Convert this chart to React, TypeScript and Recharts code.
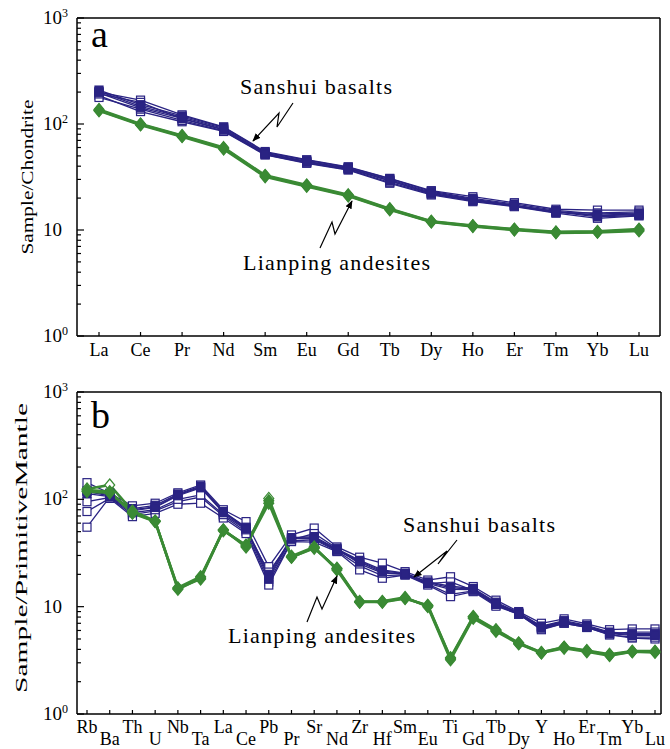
import React from 'react';
import { LineChart, Line, XAxis, YAxis } from 'recharts';

const SERIF = 'Liberation Serif';
const BLUE = '#2a2383';
const GREEN = '#3a8a34';

// Chondrite-normalised REE (panel a)
const reeElements = ['La', 'Ce', 'Pr', 'Nd', 'Sm', 'Eu', 'Gd', 'Tb', 'Dy', 'Ho', 'Er', 'Tm', 'Yb', 'Lu'];
const reeBasaltF1 = [209, 152, 119, 93, 54, 45.5, 39, 30.5, 23.2, 19.9, 17.6, 15.3, 14.2, 14.4];
const reeBasaltF2 = [203, 147, 116, 91, 53, 44.5, 38.3, 29.8, 22.7, 19.5, 17.2, 15.0, 13.6, 14.0];
const reeBasaltF3 = [197, 142, 113, 89, 52, 43.8, 37.8, 29.2, 22.3, 19.2, 17.0, 14.8, 13.3, 13.7];
const reeBasaltO1 = [200, 168, 122, 94, 55, 46, 39.5, 30.7, 23.5, 20.6, 18.1, 15.7, 15.4, 15.4];
const reeBasaltO2 = [185, 131, 105, 85, 51, 42.6, 36.8, 27.6, 21.4, 18.5, 16.6, 14.4, 12.9, 13.6];
const reeBasaltO3 = [178, 138, 108, 86, 51.5, 43, 37.2, 28.2, 21.8, 18.8, 16.8, 14.6, 14.5, 14.8];
const reeBasaltO4 = [192, 160, 112, 88, 52.5, 44, 38, 29, 22, 19, 17, 14.9, 13.8, 14.2];
const reeAndesiteG1 = [135, 99, 77, 59, 32.3, 26.2, 21.2, 15.7, 12.0, 10.9, 10.1, 9.5, 9.6, 10.0];
const reeAndesiteG2 = [137, 100, 78, 60, 32.8, 26.6, 21.5, 15.9, 12.1, 11.0, 10.2, 9.6, 9.7, 10.2];
const reeAndesiteG3 = [133, 98, 76, 58, 31.8, 25.8, 20.9, 15.5, 11.9, 10.8, 10.0, 9.4, 9.5, 9.8];

// Primitive-mantle-normalised trace elements (panel b)
const pmElements = ['Rb', 'Ba', 'Th', 'U', 'Nb', 'Ta', 'La', 'Ce', 'Pb', 'Pr', 'Sr', 'Nd', 'Zr', 'Hf', 'Sm', 'Eu', 'Ti', 'Gd', 'Tb', 'Dy', 'Y', 'Ho', 'Er', 'Tm', 'Yb', 'Lu'];
const pmBasaltF1 = [120, 110, 82, 88, 112, 133, 77, 55, 20, 44, 45, 34.5, 27, 22, 20.5, 17, 15.5, 14.8, 11, 8.8, 6.6, 7.4, 6.7, 5.8, 5.6, 5.6];
const pmBasaltF2 = [118, 108, 80, 85, 110, 130, 76, 54, 19, 43.5, 44, 34, 26.5, 21.5, 20.3, 16.8, 15, 14.6, 10.8, 8.7, 6.5, 7.3, 6.6, 5.7, 5.5, 5.5];
const pmBasaltF3 = [113, 106, 78, 84, 108, 128, 75, 53, 18, 43, 43, 33.5, 26, 21, 20, 16.5, 14.5, 14.4, 10.6, 8.6, 6.4, 7.2, 6.5, 5.6, 5.4, 5.4];
const pmBasaltO1 = [143, 114, 87, 92, 115, 136, 80, 62, 23.6, 46.6, 54, 36, 28.9, 25.4, 21.2, 17.7, 19, 15.4, 11.5, 9.0, 7.0, 7.7, 6.9, 6.1, 6.2, 6.2];
const pmBasaltO2 = [95, 104, 72, 78, 95, 105, 70, 50, 17, 41, 42, 33, 24, 19.5, 19.8, 16.2, 13, 14, 10.3, 8.5, 6.2, 7.0, 6.4, 5.5, 5.1, 5.0];
const pmBasaltO3 = [77, 102, 69, 74, 90, 92, 67, 48, 15.9, 40.4, 40, 32.6, 22, 18.4, 19.7, 15.9, 12.4, 13.8, 10.1, 8.5, 6.1, 7.0, 6.4, 5.45, 5.2, 5.2];
const pmBasaltO4 = [55, 105, 75, 80, 100, 110, 72, 52, 21, 42, 48, 35, 25, 20.5, 20.2, 16.4, 17, 14.2, 10.5, 8.6, 6.3, 7.1, 6.5, 5.6, 5.8, 5.8];
const pmAndesiteG1 = [118, 115, 76, 62, 14.8, 18.1, 51.9, 36.8, 92, 28.9, 35.5, 22.5, 11.1, 11.1, 12.0, 10.2, 3.3, 8.0, 6.0, 4.56, 3.73, 4.18, 3.87, 3.55, 3.81, 3.81];
const pmAndesiteG2 = [122, 118, 74, 62, 15, 19, 51, 37.5, 97, 29.5, 36, 22, 11.0, 11.2, 12.2, 10.0, 3.2, 7.8, 5.9, 4.5, 3.7, 4.1, 3.8, 3.5, 3.8, 3.75];
const pmAndesiteG3 = [125, 136, 78, 63, 14.5, 18.5, 52, 36, 102, 29, 35, 22.8, 11.2, 11, 11.9, 10.3, 3.35, 8.1, 6.1, 4.6, 3.75, 4.2, 3.9, 3.6, 3.85, 3.85];

const LOG_TICKS = [
  1, 2, 3, 4, 5, 6, 7, 8, 9,
  10, 20, 30, 40, 50, 60, 70, 80, 90,
  100, 200, 300, 400, 500, 600, 700, 800, 900, 1000,
];

type Sample = { key: string; values: number[]; kind: 'filled' | 'open'; rock: 'basalt' | 'andesite' };

const reeSamples: Sample[] = [
  { key: 'b1', values: reeBasaltO1, kind: 'open', rock: 'basalt' },
  { key: 'b2', values: reeBasaltO2, kind: 'open', rock: 'basalt' },
  { key: 'b3', values: reeBasaltO3, kind: 'open', rock: 'basalt' },
  { key: 'b4', values: reeBasaltO4, kind: 'open', rock: 'basalt' },
  { key: 'b5', values: reeBasaltF1, kind: 'filled', rock: 'basalt' },
  { key: 'b6', values: reeBasaltF2, kind: 'filled', rock: 'basalt' },
  { key: 'b7', values: reeBasaltF3, kind: 'filled', rock: 'basalt' },
  { key: 'g3', values: reeAndesiteG3, kind: 'open', rock: 'andesite' },
  { key: 'g1', values: reeAndesiteG1, kind: 'filled', rock: 'andesite' },
  { key: 'g2', values: reeAndesiteG2, kind: 'filled', rock: 'andesite' },
];

const pmSamples: Sample[] = [
  { key: 'b1', values: pmBasaltO1, kind: 'open', rock: 'basalt' },
  { key: 'b2', values: pmBasaltO2, kind: 'open', rock: 'basalt' },
  { key: 'b3', values: pmBasaltO3, kind: 'open', rock: 'basalt' },
  { key: 'b4', values: pmBasaltO4, kind: 'open', rock: 'basalt' },
  { key: 'b5', values: pmBasaltF1, kind: 'filled', rock: 'basalt' },
  { key: 'b6', values: pmBasaltF2, kind: 'filled', rock: 'basalt' },
  { key: 'b7', values: pmBasaltF3, kind: 'filled', rock: 'basalt' },
  { key: 'g3', values: pmAndesiteG3, kind: 'open', rock: 'andesite' },
  { key: 'g1', values: pmAndesiteG1, kind: 'filled', rock: 'andesite' },
  { key: 'g2', values: pmAndesiteG2, kind: 'filled', rock: 'andesite' },
];

const buildRows = (elements: string[], samples: Sample[]) =>
  elements.map((el, i) => {
    const row: Record<string, any> = { el };
    samples.forEach((s) => {
      row[s.key] = s.values[i];
    });
    return row;
  });

const reeRows = buildRows(reeElements, reeSamples);
const pmRows = buildRows(pmElements, pmSamples);

const makeDot = (s: Sample) => (props: any) => {
  const { cx, cy, index } = props;
  if (cx == null || cy == null) return <g key={`${s.key}-${index}`} />;
  const color = s.rock === 'basalt' ? BLUE : GREEN;
  const fill = s.kind === 'filled' ? color : '#ffffff';
  if (s.rock === 'basalt') {
    return (
      <rect
        key={`${s.key}-${index}`}
        x={cx - 4}
        y={cy - 4}
        width={8}
        height={8}
        fill={fill}
        stroke={color}
        strokeWidth={1.2}
      />
    );
  }
  return (
    <polygon
      key={`${s.key}-${index}`}
      points={`${cx},${cy - 6} ${cx + 5},${cy} ${cx},${cy + 6} ${cx - 5},${cy}`}
      fill={fill}
      stroke={color}
      strokeWidth={1.2}
    />
  );
};

const LogTick = (props: any) => {
  const { x, y, payload } = props;
  const v = Number(payload.value);
  const lg = Math.log10(v);
  const exp = Math.round(lg);
  const major = Math.abs(lg - exp) < 1e-6;
  return (
    <g>
      <line x1={x} y1={y} x2={x + (major ? 7 : 4)} y2={y} stroke="#000" strokeWidth={1.2} />
      {major && (
        <text x={x - 15} y={y + 6} textAnchor="end" fontSize={19} fontFamily={SERIF} fill="#000">
          10
        </text>
      )}
      {major && exp !== 1 && (
        <text x={x - 15} y={y - 1} textAnchor="start" fontSize={12} fontFamily={SERIF} fill="#000">
          {exp}
        </text>
      )}
    </g>
  );
};

const ReeTick = (props: any) => {
  const { x, y, payload } = props;
  return (
    <g>
      <line x1={x} y1={y} x2={x} y2={y - 4} stroke="#000" strokeWidth={1.2} />
      <text x={x} y={y + 20} textAnchor="middle" fontSize={18} fontFamily={SERIF} fill="#000">
        {payload.value}
      </text>
    </g>
  );
};

const PmTick = (props: any) => {
  const { x, y, payload, index } = props;
  const low = index % 2 === 1;
  return (
    <g>
      <line x1={x} y1={y} x2={x} y2={y - 4} stroke="#000" strokeWidth={1.2} />
      <text x={x} y={y + (low ? 31 : 19)} textAnchor="middle" fontSize={18} fontFamily={SERIF} fill="#000">
        {payload.value}
      </text>
    </g>
  );
};

const renderLines = (samples: Sample[]) =>
  samples.map((s) => (
    <Line
      key={s.key}
      dataKey={s.key}
      type="linear"
      stroke={s.rock === 'basalt' ? BLUE : GREEN}
      strokeWidth={s.rock === 'basalt' ? 1.3 : 2.6}
      dot={makeDot(s)}
      activeDot={false}
      isAnimationActive={false}
    />
  ));

const axisLine = { stroke: '#000', strokeWidth: 1.5 };

const Panel = ({
  rows,
  samples,
  width,
  height,
  margin,
  tick,
  padding,
}: {
  rows: any[];
  samples: Sample[];
  width: number;
  height: number;
  margin: { top: number; right: number; bottom: number; left: number };
  tick: any;
  padding: { left: number; right: number };
}) => (
  <LineChart width={width} height={height} data={rows} margin={margin}>
    <XAxis
      dataKey="el"
      type="category"
      interval={0}
      tickSize={0}
      tickMargin={0}
      tick={tick}
      tickLine={false}
      axisLine={axisLine}
      padding={padding}
      height={30}
    />
    <XAxis
      xAxisId="top"
      dataKey="el"
      orientation="top"
      tick={false}
      tickLine={false}
      axisLine={axisLine}
      height={1}
    />
    <YAxis
      type="number"
      scale="log"
      domain={[1, 1000]}
      allowDataOverflow
      ticks={LOG_TICKS}
      interval={0}
      tickSize={0}
      tickMargin={0}
      tick={LogTick}
      tickLine={false}
      axisLine={axisLine}
      width={60}
    />
    <YAxis
      yAxisId="right"
      orientation="right"
      type="number"
      scale="log"
      domain={[1, 1000]}
      allowDataOverflow
      tick={false}
      tickLine={false}
      axisLine={axisLine}
      width={1}
    />
    {renderLines(samples)}
  </LineChart>
);

const textStyle = { fontFamily: SERIF, fill: '#000' };

export default function App() {
  return (
    <div style={{ position: 'absolute', left: 0, top: 0, width: 670, height: 749, background: '#fff' }}>
      <div style={{ position: 'absolute', left: 0, top: 0 }}>
        <Panel
          rows={reeRows}
          samples={reeSamples}
          width={670}
          height={370}
          margin={{ top: 17, right: 9, bottom: 4, left: 17 }}
          tick={ReeTick}
          padding={{ left: 22, right: 21 }}
        />
      </div>
      <div style={{ position: 'absolute', left: 0, top: 370 }}>
        <Panel
          rows={pmRows}
          samples={pmSamples}
          width={670}
          height={379}
          margin={{ top: 21, right: 8, bottom: 5, left: 17 }}
          tick={PmTick}
          padding={{ left: 10, right: 6 }}
        />
      </div>
      <svg
        width={670}
        height={749}
        style={{ position: 'absolute', left: 0, top: 0, pointerEvents: 'none', overflow: 'visible' }}
      >
        <defs>
          <marker id="arrowHead" viewBox="0 0 10 10" refX="9" refY="5" markerWidth="7" markerHeight="7" orient="auto">
            <path d="M0,1 L10,5 L0,9 Z" fill="#000" />
          </marker>
        </defs>

        {/* panel a */}
        <text x={91} y={47} fontSize={38} style={textStyle}>a</text>
        <text
          x={0}
          y={0}
          fontSize={17}
          textAnchor="middle"
          textLength={155}
          lengthAdjust="spacingAndGlyphs"
          transform="translate(33,177) rotate(-90)"
          style={textStyle}
        >
          Sample/Chondrite
        </text>
        <text x={240} y={94} fontSize={22} textLength={152} lengthAdjust="spacing" style={textStyle}>
          Sanshui basalts
        </text>
        <polyline
          points="293,103 277,127 279,113 253,141"
          fill="none"
          stroke="#000"
          strokeWidth={1.2}
          markerEnd="url(#arrowHead)"
        />
        <text x={243} y={270} fontSize={22} textLength={187} lengthAdjust="spacing" style={textStyle}>
          Lianping andesites
        </text>
        <polyline
          points="320,248 332,222 335,234 352,201"
          fill="none"
          stroke="#000"
          strokeWidth={1.2}
          markerEnd="url(#arrowHead)"
        />

        {/* panel b */}
        <text x={91} y={428} fontSize={38} style={textStyle}>b</text>
        <text
          x={0}
          y={0}
          fontSize={17}
          textAnchor="middle"
          textLength={290}
          lengthAdjust="spacingAndGlyphs"
          transform="translate(27,548) rotate(-90)"
          style={textStyle}
        >
          Sample/PrimitiveMantle
        </text>
        <text x={403} y={532} fontSize={22} textLength={152} lengthAdjust="spacing" style={textStyle}>
          Sanshui basalts
        </text>
        <polyline
          points="457,540 438,564 447,551 414,577"
          fill="none"
          stroke="#000"
          strokeWidth={1.2}
          markerEnd="url(#arrowHead)"
        />
        <text x={228} y={643} fontSize={22} textLength={187} lengthAdjust="spacing" style={textStyle}>
          Lianping andesites
        </text>
        <polyline
          points="307,622 317,597 322,609 337,576"
          fill="none"
          stroke="#000"
          strokeWidth={1.2}
          markerEnd="url(#arrowHead)"
        />
      </svg>
    </div>
  );
}
